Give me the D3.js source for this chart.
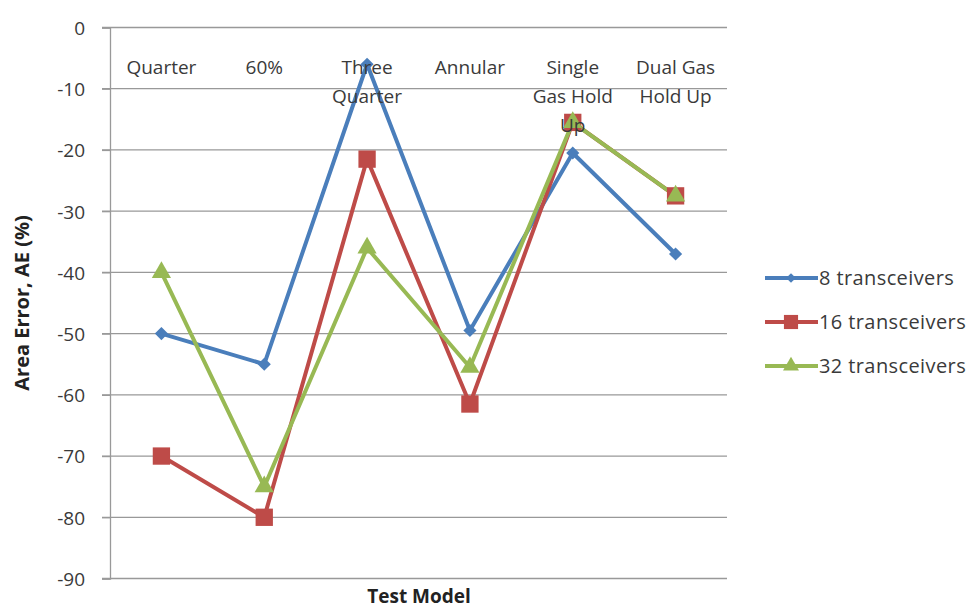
<!DOCTYPE html>
<html lang="en">
<head>
<meta charset="UTF-8">
<title>Area Error by Test Model</title>
<script src="https://d3js.org/d3.v7.min.js"></script>
<style>
    body { margin: 0; background: #fff; font-family: "Open Sans", sans-serif; }
    .grid line { stroke: #999; stroke-width: 1.3; }
    .tick text { fill: #3a3a3a; font-size: 19px; font-family: "Open Sans", sans-serif; }
    .cat { fill: #3a3a3a; font-size: 19px; }
    .title { fill: #222; font-size: 19px; font-weight: bold; }
    .legend text { fill: #3a3a3a; font-size: 20px; letter-spacing: 0.4px; }
</style>
</head>
<body>
<svg id="chart" width="974" height="608"></svg>
<script>
    const categories = [
        ["Quarter"], ["60%"], ["Three", "Quarter"], ["Annular"],
        ["Single", "Gas Hold", "Up"], ["Dual Gas", "Hold Up"]
    ];
    const yTicks = [0, -10, -20, -30, -40, -50, -60, -70, -80, -90];
    const seriesNames = ["8 transceivers", "16 transceivers", "32 transceivers"];
    const s8 = [-50, -55, -6, -49.5, -20.5, -37];
    const s16 = [-70, -80, -21.5, -61.5, -15.5, -27.5];
    const s32 = [-40, -75, -36, -55.5, -15.5, -27.5];

    const colors = ["#4a7ebb", "#be4b48", "#98b954"];
    const symbols = [d3.symbolDiamond2, d3.symbolSquare, d3.symbolTriangle];
    const symSize = [110, 300, 160];
    const legSize = [60, 200, 110];
    const series = [s8, s16, s32];

    const svg = d3.select("#chart");
    const plotL = 110, plotR = 727, plotT = 27.5, plotB = 578.5;

    const x = d3.scaleBand().domain(d3.range(categories.length)).range([plotL, plotR]);
    const y = d3.scaleLinear().domain([0, -90]).range([plotT, plotB]);
    const cx = i => x(i) + x.bandwidth() / 2;

    // gridlines
    svg.append("g").attr("class", "grid")
        .selectAll("line").data(yTicks).join("line")
        .attr("x1", plotL - 8).attr("x2", plotR)
        .attr("y1", d => y(d)).attr("y2", d => y(d));

    // y axis (hyphen minus like the original)
    const yAxis = svg.append("g")
        .attr("transform", `translate(${plotL},0)`)
        .call(d3.axisLeft(y).tickValues(yTicks).tickSize(8).tickPadding(17)
            .tickFormat(d => String(d)));
    yAxis.select(".domain").attr("stroke", "#999").attr("stroke-width", 1.3);
    yAxis.selectAll(".tick line").attr("stroke", "#999").attr("stroke-width", 1.3);
    yAxis.selectAll(".tick text").attr("dy", "0.36em");

    // lines + markers
    const line = d3.line().x((d, i) => cx(i)).y(d => y(d));
    series.forEach((vals, k) => {
        svg.append("path").datum(vals)
            .attr("fill", "none").attr("stroke", colors[k])
            .attr("stroke-width", 4).attr("stroke-linejoin", "round")
            .attr("d", line);
    });
    series.forEach((vals, k) => {
        svg.append("g").selectAll("path").data(vals).join("path")
            .attr("transform", (d, i) => `translate(${cx(i)},${y(d)})`)
            .attr("fill", colors[k])
            .attr("d", d3.symbol().type(symbols[k]).size(symSize[k]));
    });

    // category labels at top of plot, drawn over the marks
    const cats = svg.append("g");
    categories.forEach((lines, i) => {
        const t = cats.append("text").attr("class", "cat")
            .attr("text-anchor", "middle")
            .attr("x", cx(i))
            .attr("y", 74);
        lines.forEach((l, j) => t.append("tspan")
            .attr("x", cx(i))
            .attr("dy", j === 0 ? 0 : 29).text(l));
    });

    // axis titles
    svg.append("text").attr("class", "title")
        .attr("text-anchor", "middle")
        .style("font-size", "20px")
        .attr("transform", `translate(29,${(plotT + plotB) / 2}) rotate(-90)`)
        .text("Area Error, AE (%)");
    svg.append("text").attr("class", "title")
        .attr("text-anchor", "middle")
        .attr("x", 419).attr("y", 603)
        .text("Test Model");

    // legend
    const legend = svg.append("g").attr("class", "legend");
    seriesNames.forEach((name, k) => {
        const ly = 278 + k * 44;
        legend.append("line").attr("x1", 765).attr("x2", 818)
            .attr("y1", ly).attr("y2", ly)
            .attr("stroke", colors[k]).attr("stroke-width", 4);
        legend.append("path")
            .attr("transform", `translate(791,${ly})`)
            .attr("fill", colors[k])
            .attr("d", d3.symbol().type(symbols[k]).size(legSize[k]));
        legend.append("text").attr("x", 819).attr("y", ly + 7).text(name);
    });
</script>
</body>
</html>
